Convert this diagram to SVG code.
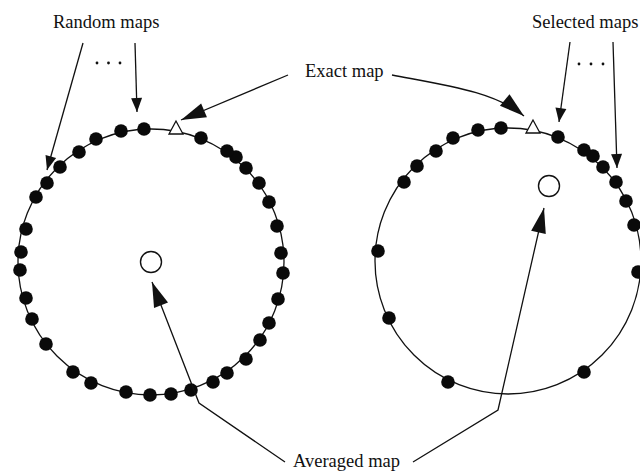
<svg xmlns="http://www.w3.org/2000/svg" xmlns:xlink="http://www.w3.org/1999/xlink" width="640" height="472" viewBox="0 0 640 472">
  <style>
    .lbl { font-family: "Liberation Serif", "Times New Roman", serif; font-size: 18.5px; fill: #111; }
    .ring { fill: none; stroke: #111; stroke-width: 1.3; }
    .dot { fill: #0a0a0a; }
    .open { fill: #fff; stroke: #111; stroke-width: 1.4; }
    .tri { fill: #fff; stroke: #111; stroke-width: 1.3; stroke-linejoin: miter; }
    .ell { fill: #111; }
    .con { fill: none; stroke: #111; stroke-width: 1.3; }
    .small { marker-end: url(#hs); }
    .big { marker-end: url(#hb); }
  </style>
  <defs>
    <marker id="hs" markerUnits="userSpaceOnUse" markerWidth="16" markerHeight="14" refX="14" refY="0" orient="auto" overflow="visible">
      <path d="M0,-5.5 L14,0 L0,5.5 Z" fill="#111"/>
    </marker>
    <marker id="hb" markerUnits="userSpaceOnUse" markerWidth="28" markerHeight="18" refX="25" refY="0" orient="auto" overflow="visible">
      <path d="M0,-7.5 L25,0 L0,7.5 Z" fill="#111"/>
    </marker>
    <g id="ringdots">
      <circle class="dot" cx="144" cy="129" r="6.8"/>
      <circle class="dot" cx="121" cy="131" r="6.8"/>
      <circle class="dot" cx="96" cy="139" r="6.8"/>
      <circle class="dot" cx="79" cy="152" r="6.8"/>
      <circle class="dot" cx="60" cy="167" r="6.8"/>
      <circle class="dot" cx="47" cy="183" r="6.8"/>
    </g>
  </defs>

  <g id="left-ring">
    <circle class="ring" cx="151" cy="262" r="133"/>
    <use xlink:href="#ringdots" href="#ringdots"/>
    <circle class="dot" cx="36" cy="197" r="6.8"/>
    <circle class="dot" cx="26" cy="229" r="6.8"/>
    <circle class="dot" cx="21" cy="252" r="6.8"/>
    <circle class="dot" cx="20" cy="270" r="6.8"/>
    <circle class="dot" cx="26" cy="298" r="6.8"/>
    <circle class="dot" cx="32" cy="319" r="6.8"/>
    <circle class="dot" cx="46" cy="344" r="6.8"/>
    <circle class="dot" cx="73" cy="372" r="6.8"/>
    <circle class="dot" cx="91" cy="383" r="6.8"/>
    <circle class="dot" cx="126" cy="392" r="6.8"/>
    <circle class="dot" cx="150" cy="395" r="6.8"/>
    <circle class="dot" cx="171" cy="394" r="6.8"/>
    <circle class="dot" cx="191" cy="390" r="6.8"/>
    <circle class="dot" cx="213" cy="382" r="6.8"/>
    <circle class="dot" cx="227" cy="373" r="6.8"/>
    <circle class="dot" cx="246" cy="359" r="6.8"/>
    <circle class="dot" cx="260" cy="340" r="6.8"/>
    <circle class="dot" cx="269" cy="323" r="6.8"/>
    <circle class="dot" cx="278" cy="299" r="6.8"/>
    <circle class="dot" cx="283" cy="273" r="6.8"/>
    <circle class="dot" cx="281" cy="253" r="6.8"/>
    <circle class="dot" cx="277" cy="226" r="6.8"/>
    <circle class="dot" cx="269" cy="202" r="6.8"/>
    <circle class="dot" cx="259" cy="183" r="6.8"/>
    <circle class="dot" cx="246" cy="168" r="6.8"/>
    <circle class="dot" cx="236" cy="157" r="6.8"/>
    <circle class="dot" cx="227" cy="151" r="6.8"/>
    <circle class="dot" cx="201" cy="138" r="6.8"/>
  </g>
  <g id="left-exact">
    <path class="tri" d="M176,121 L169,134 L183,134 Z"/>
  </g>
  <g id="left-average">
    <circle class="open" cx="151" cy="262" r="10.5"/>
  </g>

  <g id="right-ring">
    <circle class="ring" cx="508" cy="261" r="133"/>
    <use xlink:href="#ringdots" href="#ringdots" transform="translate(357,-1)"/>
    <circle class="dot" cx="378" cy="251" r="6.8"/>
    <circle class="dot" cx="389" cy="318" r="6.8"/>
    <circle class="dot" cx="448" cy="382" r="6.8"/>
    <circle class="dot" cx="584" cy="372" r="6.8"/>
    <circle class="dot" cx="638" cy="272" r="6.8"/>
    <circle class="dot" cx="634" cy="225" r="6.8"/>
    <circle class="dot" cx="626" cy="201" r="6.8"/>
    <circle class="dot" cx="616" cy="182" r="6.8"/>
    <circle class="dot" cx="603" cy="167" r="6.8"/>
    <circle class="dot" cx="593" cy="156" r="6.8"/>
    <circle class="dot" cx="584" cy="150" r="6.8"/>
    <circle class="dot" cx="558" cy="137" r="6.8"/>
  </g>
  <g id="right-exact">
    <path class="tri" d="M533,120 L526,133 L540,133 Z"/>
  </g>
  <g id="right-average">
    <circle class="open" cx="549" cy="186" r="10.5"/>
  </g>

  <g id="random-maps-label">
    <text class="lbl" x="53" y="28">Random maps</text>
    <circle class="ell" cx="97" cy="63" r="1.4"/>
    <circle class="ell" cx="108.5" cy="63" r="1.4"/>
    <circle class="ell" cx="120" cy="63" r="1.4"/>
  </g>
  <g id="selected-maps-label">
    <text class="lbl" x="532" y="28">Selected maps</text>
    <circle class="ell" cx="579" cy="64" r="1.4"/>
    <circle class="ell" cx="591" cy="64" r="1.4"/>
    <circle class="ell" cx="603" cy="64" r="1.4"/>
  </g>
  <g id="exact-map-label">
    <text class="lbl" x="305" y="77">Exact map</text>
  </g>
  <g id="averaged-map-label">
    <text class="lbl" x="293" y="467">Averaged map</text>
  </g>

  <g id="connectors">
    <path class="con small" d="M83,43 L47,170"/>
    <path class="con small" d="M135,43 L137,112"/>
    <path class="con small" d="M570,42 L559,122"/>
    <path class="con small" d="M613,42 L617,168"/>
    <path class="con big" d="M288,75 L181,120"/>
    <path class="con big" d="M392,75 C450,86 495,92 524,116"/>
    <path class="con big" d="M285,462 L199,403 L152,282"/>
    <path class="con big" d="M413,462 L498,410 L544,208"/>
  </g>
</svg>
